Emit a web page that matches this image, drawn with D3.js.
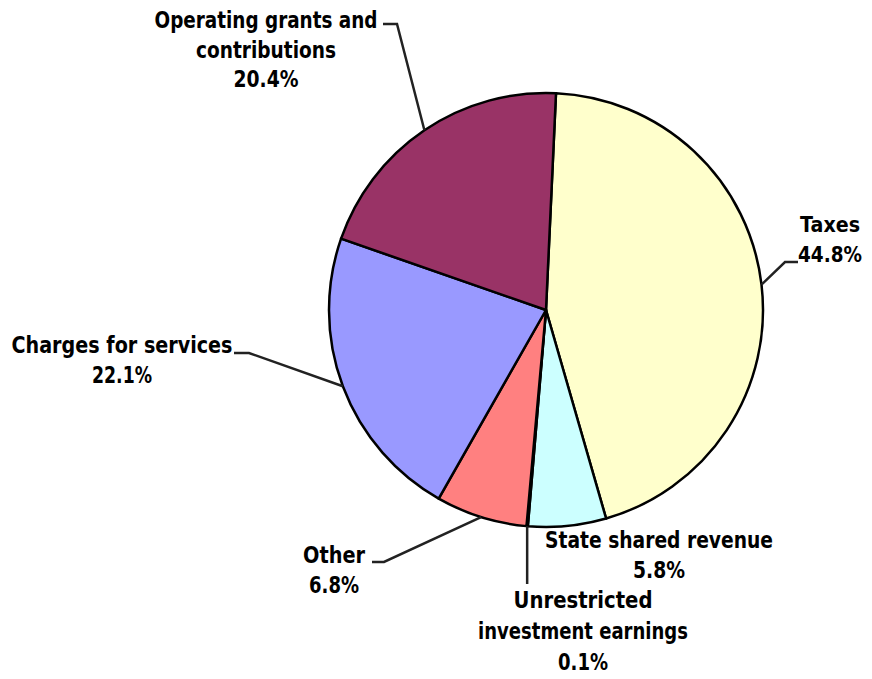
<!DOCTYPE html>
<html>
<head>
<meta charset="utf-8">
<script src="https://cdn.jsdelivr.net/npm/d3@7"></script>
<style>
  html, body { margin: 0; padding: 0; background: #fff; }
  svg { display: block; }
  .lbl { font-family: "DejaVu Sans", sans-serif; font-weight: bold; font-size: 23px; fill: #000; }
</style>
</head>
<body>
<svg id="chart" width="872" height="679"></svg>
<script>
// Revenue sources, clockwise from the top
const categories = ["Taxes", "State shared revenue", "Unrestricted investment earnings", "Other", "Charges for services", "Operating grants and contributions"];
const shares = [44.8, 5.8, 0.1, 6.8, 22.1, 20.4];
const sliceColors = ["#FFFFCC", "#CCFFFF", "#660066", "#FF8080", "#9999FF", "#993366"];

// Label lines (text split per line) and their placement
const labelLines = [
  ["Taxes", "44.8%"],
  ["State shared revenue", "5.8%"],
  ["Unrestricted", "investment earnings", "0.1%"],
  ["Other", "6.8%"],
  ["Charges for services", "22.1%"],
  ["Operating grants and", "contributions", "20.4%"]
];
// per label: center x, first baseline, line step, font size, line widths, leader path points after the edge point
const labelLayout = [
  { cx: 830, y0: 232, step: 30, size: 21, widths: [60, 64], leader: [[785, 262], [798, 262]] },
  { cx: 659, y0: 548, step: 30, size: 23, widths: [228, 52], leader: null },
  { cx: 583, y0: 608, step: 31, size: 23, widths: [139, 210, 50], leader: "down" },
  { cx: 334, y0: 563, step: 30, size: 23, widths: [62, 50], leader: [[384, 562], [372, 562]] },
  { cx: 122, y0: 353, step: 30, size: 23, widths: [221, 60], leader: [[249, 353], [234, 353]] },
  { cx: 266, y0: 28, step: 29.5, size: 23, widths: [223, 140, 65], leader: [[397, 24], [383, 24]] }
];

const svg = d3.select("#chart");
const cx = 546, cy = 310, radius = 217;
const startOffset = Math.asin(10 / radius);

const pie = d3.pie().sort(null).value(d => d)
  .startAngle(startOffset).endAngle(startOffset + 2 * Math.PI);
const arcs = pie(shares);
const arcGen = d3.arc().innerRadius(0).outerRadius(radius);

const g = svg.append("g").attr("transform", `translate(${cx},${cy})`);
g.selectAll("path.slice")
  .data(arcs)
  .join("path")
  .attr("class", "slice")
  .attr("d", arcGen)
  .attr("fill", (d, i) => sliceColors[i])
  .attr("stroke", "#000")
  .attr("stroke-width", 2.5)
  .attr("stroke-linejoin", "round");

// leader lines from the rim at each slice's mid angle
const line = d3.line();
arcs.forEach((a, i) => {
  const lay = labelLayout[i];
  if (!lay.leader) return;
  const mid = (a.startAngle + a.endAngle) / 2;
  const ex = cx + radius * Math.sin(mid);
  const ey = cy - radius * Math.cos(mid);
  let pts;
  if (lay.leader === "down") {
    pts = [[ex, ey], [ex, lay.y0 - 24]];
  } else {
    pts = [[ex, ey], ...lay.leader];
  }
  svg.append("path")
    .attr("d", line(pts))
    .attr("fill", "none")
    .attr("stroke", "#222")
    .attr("stroke-width", 2.5);
});

// labels
labelLines.forEach((lines, i) => {
  const lay = labelLayout[i];
  const t = svg.append("text").attr("class", "lbl")
    .attr("text-anchor", "middle")
    .style("font-size", lay.size + "px");
  lines.forEach((s, j) => {
    t.append("tspan")
      .attr("x", lay.cx)
      .attr("y", lay.y0 + j * lay.step)
      .attr("textLength", lay.widths[j])
      .attr("lengthAdjust", "spacingAndGlyphs")
      .text(s);
  });
});
</script>
</body>
</html>
